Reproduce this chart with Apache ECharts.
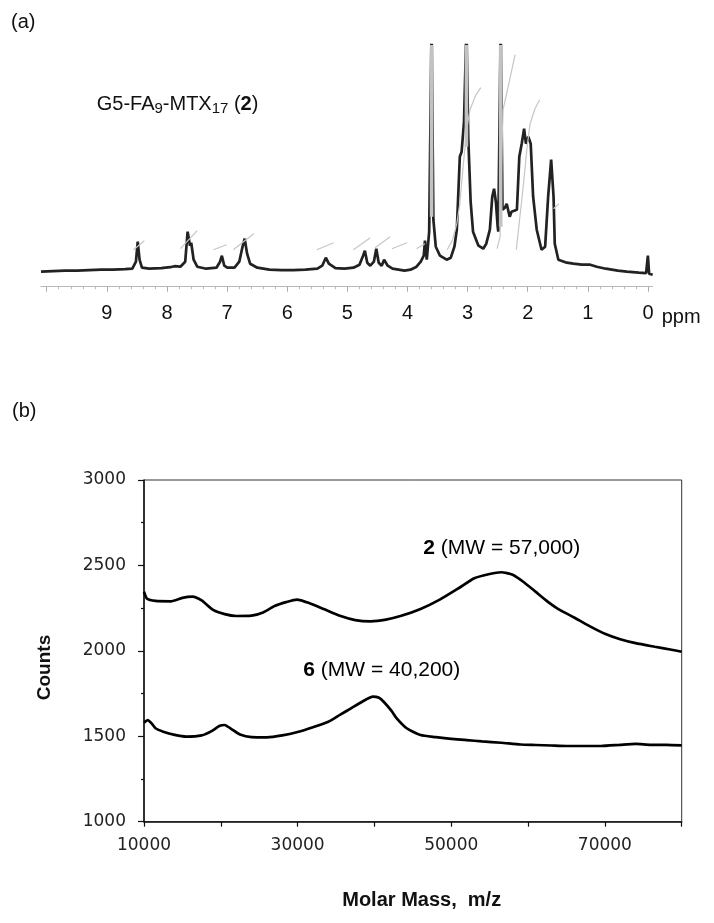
<!DOCTYPE html>
<html><head><meta charset="utf-8">
<script src="https://cdn.jsdelivr.net/npm/echarts@6/dist/echarts.min.js"></script>
<style>html,body{margin:0;padding:0;background:#fff}#c{width:714px;height:923px}</style>
</head><body><div id="c"></div>
<script>
// ---------- (a) 1H NMR spectrum: [ppm, intensity] ----------
const nmrTrace = [
 [10.1,0],[9.9,0.5],[9.7,1],[9.5,1],[9.3,1.5],[9.1,2],[8.9,2],[8.7,2.5],[8.58,3],[8.52,10],[8.49,30],[8.46,12],[8.42,4],
 [8.3,3],[8.1,3.5],[7.95,4.5],[7.88,5.5],[7.78,5],[7.70,10],[7.66,40],[7.62,26],[7.60,29],[7.56,12],[7.50,5],[7.35,3],
 [7.18,4],[7.12,10],[7.09,16],[7.05,6],[7.00,4],[6.88,4],[6.80,10],[6.75,24],[6.71,33],[6.67,18],[6.62,8],[6.5,4],
 [6.3,2],[6.1,1.5],[5.9,1.5],[5.7,2],[5.5,3],[5.42,6],[5.36,14],[5.31,8],[5.2,3.5],[5.05,3],[4.9,4],[4.8,7],[4.74,16],
 [4.71,21],[4.67,9],[4.62,6],[4.56,10],[4.52,23],[4.48,9],[4.43,6],[4.39,12],[4.37,14],[4.33,6],[4.25,3],[4.15,2],
 [4.05,1],[3.95,2],[3.85,5],[3.78,10],[3.73,16],[3.71,31],[3.68,12],[3.64,40],[3.60,245],[3.57,52],[3.53,25],[3.46,16],
 [3.35,12],[3.28,14],[3.22,25],[3.18,42],[3.13,115],[3.10,120],[3.06,150],[3.02,245],[2.99,135],[2.95,70],[2.91,40],
 [2.82,26],[2.74,23],[2.69,28],[2.63,42],[2.59,75],[2.56,83],[2.53,70],[2.50,45],[2.49,40],[2.45,245],[2.42,62],
 [2.38,64],[2.35,68],[2.30,55],[2.27,60],[2.24,62],[2.18,62],[2.14,115],[2.10,128],[2.06,143],[2.03,128],[1.99,135],
 [1.95,128],[1.91,75],[1.85,42],[1.77,22],[1.71,25],[1.66,75],[1.61,112],[1.57,75],[1.55,28],[1.49,12],[1.35,9],
 [1.24,8],[1.1,7],[0.96,7],[0.85,5],[0.7,3],[0.5,1],[0.35,0],[0.15,-1],[0.03,-1.5],[0.0,16],[-0.02,-2],[-0.08,-3]
];
// integration curves (light grey)
const integralCurves = [
 [[8.56,22],[8.38,31]],
 [[7.78,23],[7.50,41]],
 [[7.23,22],[7.01,27]],
 [[6.90,22],[6.56,38]],
 [[5.51,22],[5.23,29]],
 [[4.90,22],[4.62,34]],
 [[4.54,24],[4.29,35]],
 [[4.26,23],[4.01,29]],
 [[3.85,23],[3.71,28]],
 [[3.34,22],[3.25,32],[3.18,48],[3.13,68],[3.06,115],[3.00,148],[2.96,162],[2.87,176],[2.78,184]],
 [[2.51,23],[2.46,35],[2.43,120],[2.41,162],[2.30,192],[2.21,217]],
 [[2.19,22],[2.13,55],[2.07,88],[2.01,125],[1.96,148],[1.88,163],[1.80,172]],
 [[1.57,63],[1.48,68]]
];
// off-scale (clipped) peaks and the level where their grey trace starts
const clippedPeaks = [3.60, 3.02, 2.45];
const clippedFrom = [55, 125, 45];
const nmrTop = 226.7;
const nmrTickLabels = [9, 8, 7, 6, 5, 4, 3, 2, 1, 0];

// ---------- (b) MALDI-TOF: [m/z, counts] ----------
const maldi2 = [
 [10000,2346],[10400,2305],[11500,2292],[13500,2290],[15000,2310],[16300,2317],[17500,2295],[19000,2240],[20500,2215],
 [22000,2204],[24000,2206],[25500,2225],[27000,2262],[28500,2285],[29900,2300],[31500,2280],[33500,2243],[35500,2205],
 [37500,2180],[39500,2173],[41500,2183],[43500,2205],[46000,2245],[48500,2300],[51000,2368],[53000,2425],[55000,2450],
 [56500,2460],[58000,2445],[59500,2400],[61000,2345],[62500,2290],[64000,2243],[66000,2195],[68000,2145],[70000,2100],
 [72000,2068],[74000,2045],[76500,2024],[78500,2008],[80000,1995]
];
const maldi6 = [
 [10000,1580],[10500,1595],[11000,1575],[11500,1547],[12500,1527],[14000,1508],[15500,1498],[17500,1505],[18800,1530],
 [19800,1560],[20500,1566],[21300,1545],[22500,1510],[24000,1495],[26000,1494],[28000,1505],[30000,1525],[32000,1553],
 [34000,1585],[35500,1625],[37000,1665],[38500,1705],[39800,1732],[40600,1725],[41200,1702],[42200,1650],[42900,1605],
 [44200,1547],[46000,1507],[48000,1495],[50000,1485],[52000,1478],[54000,1470],[56500,1462],[59000,1452],[61000,1449],
 [63000,1446],[65000,1443],[67000,1443],[69500,1443],[72000,1450],[74000,1455],[76000,1450],[78000,1450],[80000,1447]
];
const massTickLabels = [10000, 30000, 50000, 70000];
const countTickLabels = [1000, 1500, 2000, 2500, 3000];

const FF = '"Liberation Sans", Arial, sans-serif';
const chart = echarts.init(document.getElementById('c'), null, {renderer: 'canvas'});

const series = [
 {type:'line', xAxisIndex:0, yAxisIndex:0, data:nmrTrace, symbol:'none', z:2,
  lineStyle:{color:'#222', width:2.7}},
 ...integralCurves.map(c => ({type:'line', xAxisIndex:0, yAxisIndex:0, data:c, symbol:'none', z:3,
  lineStyle:{color:'#c6c6c6', width:1.2}})),
 ...clippedPeaks.map((p, i) => ({type:'line', xAxisIndex:0, yAxisIndex:0, symbol:'none', z:4,
  data:[[p, clippedFrom[i]], [p, nmrTop]], lineStyle:{color:'#c2c2c2', width:3.6}})),
 {type:'line', xAxisIndex:2, yAxisIndex:2, data:maldi2, symbol:'none', smooth:0.2,
  lineStyle:{color:'#000', width:2.7}},
 {type:'line', xAxisIndex:2, yAxisIndex:2, data:maldi6, symbol:'none', smooth:0.2,
  lineStyle:{color:'#000', width:2.7}}
];

chart.setOption({
 animation:false,
 backgroundColor:'#fff',
 grid:[
  {left:41, right:61.3, top:45, height:241.7},
  {left:46.7, right:66, top:45, height:241.7},
  {left:144, right:32.3, top:480, height:341.7, show:true, borderColor:'#333', borderWidth:1}
 ],
 xAxis:[
  {gridIndex:0, type:'value', inverse:true, min:-0.08, max:10.1,
   axisLine:{show:true, onZero:false, lineStyle:{color:'#b8b8b8', width:1}},
   axisTick:{show:false}, axisLabel:{show:false}, splitLine:{show:false}},
  {gridIndex:1, type:'value', inverse:true, min:0, max:10, interval:1,
   axisLine:{show:false},
   axisTick:{show:true, length:5, lineStyle:{color:'#aaa', width:1}},
   minorTick:{show:true, splitNumber:5, length:2.5, lineStyle:{color:'#bbb', width:1}},
   axisLabel:{show:true, margin:17, fontSize:20, fontFamily:FF, color:'#111',
    formatter: v => nmrTickLabels.includes(v) ? String(v) : ''},
   splitLine:{show:false}, minorSplitLine:{show:false}},
  {gridIndex:2, type:'value', min:10000, max:80000, interval:10000,
   axisLine:{show:true, onZero:false, lineStyle:{color:'#111', width:1.5}},
   axisTick:{show:true, length:5, lineStyle:{color:'#111', width:1.2}},
   axisLabel:{margin:15, fontSize:17, fontFamily:'"DejaVu Sans", sans-serif', color:'#222',
    formatter: v => massTickLabels.includes(v) ? String(v) : ''},
   splitLine:{show:false}}
 ],
 yAxis:[
  {gridIndex:0, type:'value', min:-15, max:nmrTop, show:false},
  {gridIndex:1, type:'value', min:0, max:1, show:false},
  {gridIndex:2, type:'value', min:1000, max:3000, interval:500,
   axisLine:{show:true, onZero:false, lineStyle:{color:'#111', width:1.5}},
   axisTick:{show:true, length:6, lineStyle:{color:'#111', width:1.2}},
   minorTick:{show:true, splitNumber:2, length:3, lineStyle:{color:'#111', width:1.2}},
   axisLabel:{margin:18, fontSize:17, fontFamily:'"DejaVu Sans", sans-serif', color:'#222',
    formatter: v => countTickLabels.includes(v) ? String(v) : ''},
   splitLine:{show:false}, minorSplitLine:{show:false}}
 ],
 graphic:[
  {type:'text', x:11, y:22, style:{text:'(a)', font:'20px '+FF, fill:'#111', textVerticalAlign:'middle', verticalAlign:'middle'}},
  {type:'text', x:12, y:411, style:{text:'(b)', font:'20px '+FF, fill:'#111', textVerticalAlign:'middle', verticalAlign:'middle'}},
  {type:'text', x:96.7, y:104, style:{
    text:'{n|G5-FA}{s|9}{n|-MTX}{s|17}{n| (}{b|2}{n|)}',
    textVerticalAlign:'middle', verticalAlign:'middle', fill:'#111',
    rich:{
     n:{fontSize:20, fontFamily:FF, color:'#111'},
     s:{fontSize:15, fontFamily:FF, color:'#111', padding:[10,0,0,0]},
     b:{fontSize:20, fontFamily:FF, fontWeight:'bold', color:'#111'}
    }}},
  {type:'text', x:661.7, y:317.5, style:{text:'ppm', font:'20px '+FF, fill:'#111', textVerticalAlign:'middle', verticalAlign:'middle'}},
  {type:'text', x:423.3, y:548.3, style:{
    text:'{b|2}{n| (MW = 57,000)}', textVerticalAlign:'middle', verticalAlign:'middle',
    rich:{n:{fontSize:21, fontFamily:FF, color:'#111'}, b:{fontSize:21, fontFamily:FF, fontWeight:'bold', color:'#111'}}}},
  {type:'text', x:303.3, y:670.5, style:{
    text:'{b|6}{n| (MW = 40,200)}', textVerticalAlign:'middle', verticalAlign:'middle',
    rich:{n:{fontSize:21, fontFamily:FF, color:'#111'}, b:{fontSize:21, fontFamily:FF, fontWeight:'bold', color:'#111'}}}},
  {type:'text', x:44.3, y:667.5, rotation:Math.PI/2, style:{text:'Counts', font:'bold 19px '+FF, fill:'#111',
    textAlign:'center', align:'center', textVerticalAlign:'middle', verticalAlign:'middle'}},
  {type:'text', x:421.7, y:900, style:{text:'Molar Mass,  m/z', font:'bold 20px '+FF, fill:'#111',
    textAlign:'center', align:'center', textVerticalAlign:'middle', verticalAlign:'middle'}}
 ],
 series: series
});
</script></body></html>
